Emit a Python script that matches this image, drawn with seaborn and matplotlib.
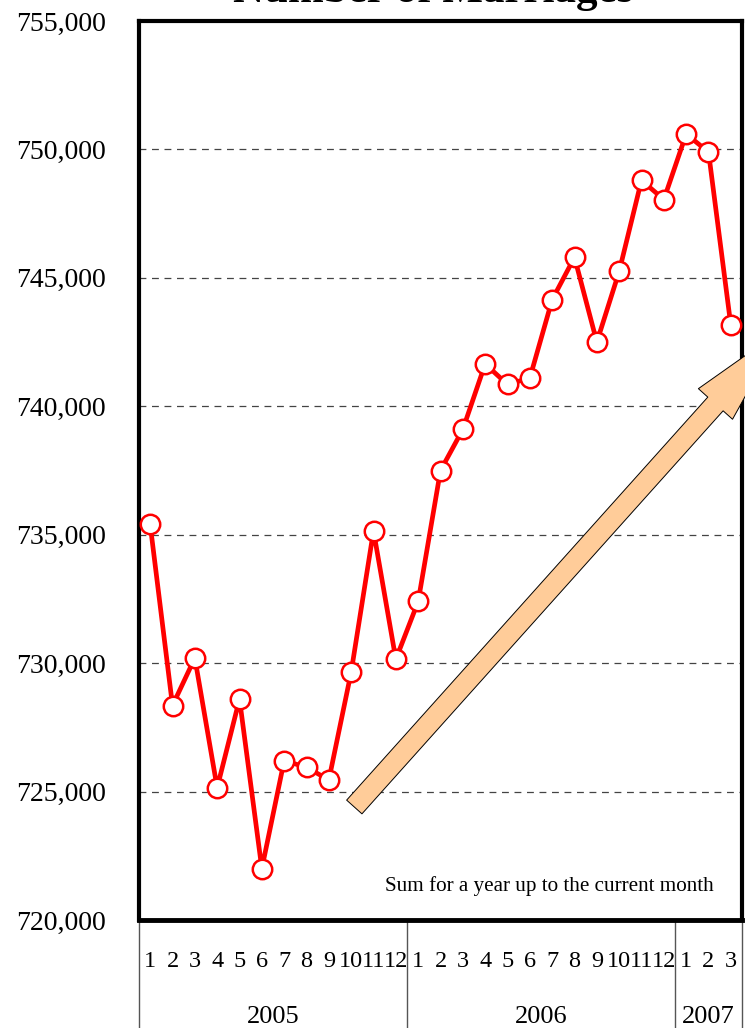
import matplotlib
matplotlib.use("Agg")
import matplotlib.pyplot as plt
import matplotlib.transforms as mtransforms
import seaborn as sns
import pandas as pd
import numpy as np

# ---- data ----
years = ["2005", "2006", "2007"]
months_per_year = [12, 12, 3]
month_labels = [str(m) for m in range(1, 13)] + [str(m) for m in range(1, 13)] + ["1", "2", "3"]
marriages = [735400, 728350, 730200, 725150, 728600, 722000, 726200, 725950, 725450,
             729650, 735150, 730150,
             732400, 737500, 739100, 741650, 740850, 741100, 744150, 745800, 742500,
             745250, 748800, 748050,
             750600, 749900, 743150]
y_ticks = [720000, 725000, 730000, 735000, 740000, 745000, 750000, 755000]
title = "Number of Marriages"
note = "Sum for a year up to the current month"

sns.set_theme(style="white")
plt.rcParams["font.family"] = ["Liberation Serif", "DejaVu Serif"]
plt.rcParams["text.color"] = "black"
plt.rcParams["xtick.color"] = "black"
plt.rcParams["ytick.color"] = "black"
plt.rcParams["xtick.labelcolor"] = "black"
plt.rcParams["ytick.labelcolor"] = "black"

df = pd.DataFrame({"idx": np.arange(len(marriages)), "value": marriages})

fig = plt.figure(figsize=(7.45, 10.28), dpi=100)
ax = fig.add_axes([139 / 745, 1 - 920 / 1028, (742 - 139) / 745, (920 - 21) / 1028])

sns.lineplot(data=df, x="idx", y="value", ax=ax, color="#FF0000", linewidth=3.4,
             marker="o", markersize=14, markerfacecolor="white",
             markeredgecolor="#FF0000", markeredgewidth=1.8, zorder=5)

ax.set_xlim(-0.5, len(marriages) - 0.5)
ax.set_ylim(y_ticks[0], y_ticks[-1])
ax.set_yticks(y_ticks)
ax.set_yticklabels([f"{v:,}" for v in y_ticks], fontsize=20, color="black")
ax.set_xticks(df["idx"])
ax.set_xticklabels(month_labels, fontsize=17.5, color="black")
ax.tick_params(axis="y", length=0, pad=24)
ax.tick_params(axis="x", length=0, pad=22)
ax.set_xlabel("")
ax.set_ylabel("")

# dashed gridlines
for v in y_ticks[1:-1]:
    ax.axhline(v, color="#444444", linewidth=0.9, linestyle=(0, (5.5, 4.5)), zorder=1)

for s in ["left", "top", "right"]:
    ax.spines[s].set_linewidth(3)
    ax.spines[s].set_color("black")
ax.spines["bottom"].set_linewidth(3.5)
ax.spines["bottom"].set_color("black")

# year separators and labels below axis
trans = mtransforms.blended_transform_factory(ax.transData, ax.transAxes)
bounds = np.concatenate([[0], np.cumsum(months_per_year)]) - 0.5
for b in bounds:
    ax.plot([b, b], [0, -0.12], transform=trans, color="#555555", linewidth=1.0,
            clip_on=False, zorder=0)
for i, yr in enumerate(years):
    c = (bounds[i] + bounds[i + 1]) / 2
    ax.text(c, -0.108, yr, transform=trans, ha="center", va="center", fontsize=19,
            color="black")

# big trend arrow
ax.annotate("", xy=(28.3, 742990), xytext=(9.14, 724400), xycoords="data",
            textcoords="data", annotation_clip=False,
            arrowprops=dict(arrowstyle="simple,head_length=72,head_width=33,tail_width=14.8",
                            mutation_scale=1, fc="#FFCC99", ec="black", lw=0.7,
                            shrinkA=0, shrinkB=0, clip_on=False),
            zorder=6)

ax.text(0.953, 0.038, note, transform=ax.transAxes, ha="right", va="center", fontsize=15.2,
        color="black")

fig.text(433 / 745, 1 - 2 / 1028, title, ha="center", va="baseline",
         fontsize=31, fontweight="bold", color="black")

fig.savefig("out.png", dpi=100)
